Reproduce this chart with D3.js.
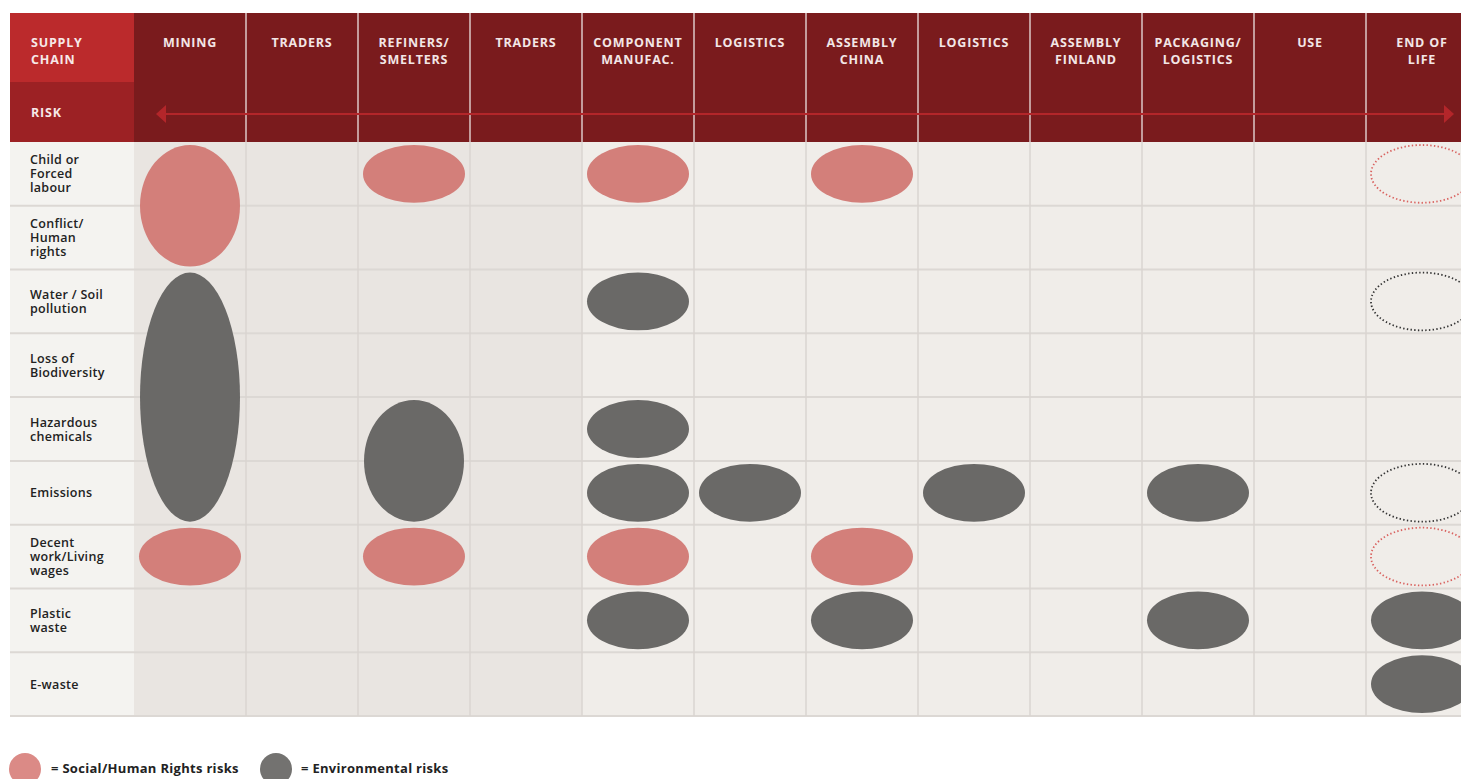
<!DOCTYPE html>
<html>
<head>
<meta charset="utf-8">
<script src="https://cdn.jsdelivr.net/npm/d3@7"></script>
<style>
  body { margin: 0; background: #fff; }
  svg { display: block; }
  text { font-family: "Open Sans", "DejaVu Sans", sans-serif; }
</style>
</head>
<body>
<script>
// stages of the supply chain (header)
var stages = ["MINING", "TRADERS", "REFINERS/\nSMELTERS", "TRADERS", "COMPONENT\nMANUFAC.", "LOGISTICS",
  "ASSEMBLY\nCHINA", "LOGISTICS", "ASSEMBLY\nFINLAND", "PACKAGING/\nLOGISTICS", "USE", "END OF\nLIFE"];
// risk categories (rows)
var risks = ["Child or\nForced\nlabour", "Conflict/\nHuman\nrights", "Water / Soil\npollution", "Loss of\nBiodiversity",
  "Hazardous\nchemicals", "Emissions", "Decent\nwork/Living\nwages", "Plastic\nwaste", "E-waste"];
// upstream stages with darker background
var upstream = [0, 1, 2, 3];
// risk marks: stage index, first row, last row, type, dotted (uncertain)
var stageIdx = [0, 0, 0, 2, 2, 2, 4, 4, 4, 4, 4, 4, 5, 6, 6, 6, 7, 9, 9, 11, 11, 11, 11, 11, 11];
var rowFrom  = [0, 2, 6, 0, 4, 6, 0, 2, 4, 5, 6, 7, 5, 0, 6, 7, 5, 5, 7, 0, 2, 5, 6, 7, 8];
var rowTo    = [1, 5, 6, 0, 5, 6, 0, 2, 4, 5, 6, 7, 5, 0, 6, 7, 5, 5, 7, 0, 2, 5, 6, 7, 8];
var riskType = ["s", "e", "s", "s", "e", "s", "s", "e", "e", "e", "s", "e", "e", "s", "s", "e", "e", "e", "e",
  "s", "e", "e", "s", "e", "e"];
var dotted   = [0, 0, 0, 0, 0, 0, 0, 0, 0, 0, 0, 0, 0, 0, 0, 0, 0, 0, 0, 1, 1, 1, 1, 0, 0];

var W = 1461, H = 779;
var left = 10, labelW = 124, tableTop = 13, headH = 129, colW = 112;
var bodyTop = tableTop + headH, bodyBottom = 716;

var svg = d3.select("body").append("svg").attr("width", W).attr("height", H);

var x = d3.scaleBand()
  .domain(d3.range(stages.length))
  .range([left + labelW, left + labelW + colW * stages.length]);

var y = d3.scaleBand()
  .domain(d3.range(risks.length))
  .range([bodyTop, bodyBottom]);

var colour = { s: "#d37f7a", e: "#6a6967" };

// body backgrounds
svg.append("rect").attr("x", left).attr("y", bodyTop)
  .attr("width", labelW).attr("height", bodyBottom - bodyTop).attr("fill", "#f4f3f0");
svg.selectAll(".colbg").data(d3.range(stages.length)).enter().append("rect")
  .attr("x", function(d) { return x(d); })
  .attr("y", bodyTop)
  .attr("width", x.bandwidth())
  .attr("height", bodyBottom - bodyTop)
  .attr("fill", function(d) { return upstream.indexOf(d) >= 0 ? "#e9e5e1" : "#f0ede9"; });

// header
svg.append("rect").attr("x", left).attr("y", tableTop).attr("width", W - left).attr("height", headH).attr("fill", "#7a1b1d");
svg.append("rect").attr("x", left).attr("y", tableTop).attr("width", labelW).attr("height", 69).attr("fill", "#bb2a2c");
svg.append("rect").attr("x", left).attr("y", tableTop + 69).attr("width", labelW).attr("height", headH - 69).attr("fill", "#9c2124");

// grid lines
svg.selectAll(".hline").data(d3.range(1, risks.length + 1)).enter().append("line")
  .attr("x1", left).attr("x2", W)
  .attr("y1", function(d) { return d < risks.length ? y(d) : bodyBottom; })
  .attr("y2", function(d) { return d < risks.length ? y(d) : bodyBottom; })
  .attr("stroke", "#dcd8d4").attr("stroke-width", 2);

svg.selectAll(".vline").data(d3.range(1, stages.length)).enter().append("line")
  .attr("x1", function(d) { return x(d); }).attr("x2", function(d) { return x(d); })
  .attr("y1", tableTop).attr("y2", bodyBottom)
  .attr("stroke", "#dad5d1").attr("stroke-width", 1.5);
// header separators a bit lighter on red
svg.selectAll(".hvline").data(d3.range(1, stages.length)).enter().append("line")
  .attr("x1", function(d) { return x(d); }).attr("x2", function(d) { return x(d); })
  .attr("y1", tableTop).attr("y2", bodyTop)
  .attr("stroke", "#c49a9a").attr("stroke-width", 1.5);

// header labels
function multiline(sel, str, lh) {
  var parts = str.split("\n");
  var off = -(parts.length - 1) * lh / 2;
  parts.forEach(function(p, i) {
    sel.append("tspan").attr("x", sel.attr("x")).attr("dy", i === 0 ? off : lh).text(p);
  });
}

svg.selectAll(".stage").data(stages).enter().append("text")
  .attr("x", function(d, i) { return x(i) + x.bandwidth() / 2; })
  .attr("y", 47)
  .attr("text-anchor", "middle")
  .attr("fill", "#f3e6e6")
  .attr("font-size", 12.5).attr("font-weight", 700).attr("letter-spacing", 0.8)
  .each(function(d) {
    var t = d3.select(this);
    d.split("\n").forEach(function(p, i) {
      t.append("tspan").attr("x", t.attr("x")).attr("dy", i === 0 ? 0 : 16.5).text(p);
    });
  });

svg.append("text").attr("x", 31).attr("y", 47).attr("fill", "#f7e8e8")
  .attr("font-size", 12.5).attr("font-weight", 700).attr("letter-spacing", 0.8)
  .each(function() {
    var t = d3.select(this);
    t.append("tspan").attr("x", 31).attr("dy", 0).text("SUPPLY");
    t.append("tspan").attr("x", 31).attr("dy", 16.5).text("CHAIN");
  });
svg.append("text").attr("x", 31).attr("y", 117).attr("fill", "#f7e8e8")
  .attr("font-size", 12.5).attr("font-weight", 700).attr("letter-spacing", 0.8).text("RISK");

// risk arrow
var ay = 114, ax1 = 156, ax2 = 1454;
svg.append("line").attr("x1", ax1 + 8).attr("x2", ax2 - 8).attr("y1", ay).attr("y2", ay)
  .attr("stroke", "#b3262a").attr("stroke-width", 2);
svg.append("path").attr("d", "M" + ax1 + "," + ay + "L" + (ax1 + 10) + "," + (ay - 9) + "L" + (ax1 + 10) + "," + (ay + 9) + "Z")
  .attr("fill", "#b3262a");
svg.append("path").attr("d", "M" + ax2 + "," + ay + "L" + (ax2 - 10) + "," + (ay - 9) + "L" + (ax2 - 10) + "," + (ay + 9) + "Z")
  .attr("fill", "#b3262a");

// row labels
svg.selectAll(".risk").data(risks).enter().append("text")
  .attr("x", 30)
  .attr("y", function(d, i) { return y(i) + y.bandwidth() / 2 + 4.5; })
  .attr("fill", "#222")
  .attr("font-size", 12.5).attr("font-weight", 600).attr("letter-spacing", 0.3)
  .each(function(d) { multiline(d3.select(this), d, 14); });

// risk ellipses
var marks = stageIdx.map(function(s, i) {
  return { stage: s, from: rowFrom[i], to: rowTo[i], type: riskType[i], dotted: dotted[i] };
});

svg.selectAll(".mark").data(marks).enter().append("ellipse")
  .attr("cx", function(d) { return x(d.stage) + x.bandwidth() / 2; })
  .attr("cy", function(d) { return (y(d.from) + y(d.to) + y.bandwidth()) / 2; })
  .attr("rx", function(d) { return d.from === d.to ? 51 : 50; })
  .attr("ry", function(d) { return (y(d.to) + y.bandwidth() - y(d.from)) / 2 - 3; })
  .attr("fill", function(d) { return d.dotted ? "none" : colour[d.type]; })
  .attr("stroke", function(d) { return d.dotted ? (d.type === "s" ? "#d9625f" : "#333") : "none"; })
  .attr("stroke-width", function(d) { return d.dotted ? 1.8 : 0; })
  .attr("stroke-dasharray", function(d) { return d.dotted ? "1.4 2.3" : null; });

// legend
var legend = [{ type: "s", label: "= Social/Human Rights risks", cx: 25, tx: 51 },
              { type: "e", label: "= Environmental risks", cx: 276, tx: 301 }];
var lg = svg.selectAll(".legend").data(legend).enter().append("g");
lg.append("circle").attr("cx", function(d) { return d.cx; }).attr("cy", 769).attr("r", 16)
  .attr("fill", function(d) { return d.type === "s" ? "#db8a86" : "#737270"; });
lg.append("text").attr("x", function(d) { return d.tx; }).attr("y", 773)
  .attr("fill", "#222").attr("font-size", 13).attr("font-weight", 700).attr("letter-spacing", 0.3)
  .text(function(d) { return d.label; });
</script>
</body>
</html>
